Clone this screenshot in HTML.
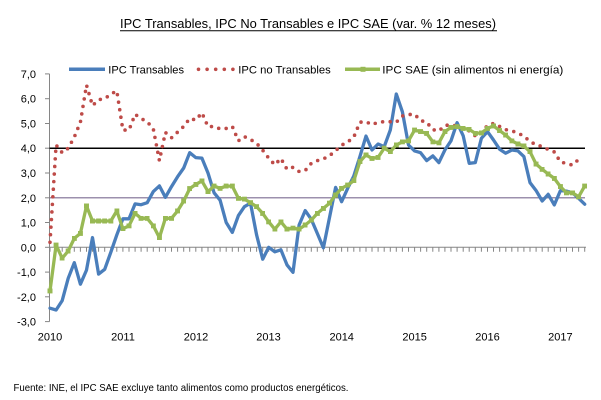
<!DOCTYPE html>
<html>
<head>
<meta charset="utf-8">
<style>
html,body{margin:0;padding:0;background:#fff;}
svg{display:block;}
text{font-family:"Liberation Sans",sans-serif;fill:#000;}
</style>
</head>
<body>
<svg width="601" height="400" viewBox="0 0 601 400" xmlns="http://www.w3.org/2000/svg">
<defs>
<marker id="sq" markerWidth="5" markerHeight="5" refX="2.5" refY="2.5" markerUnits="userSpaceOnUse">
<rect x="0" y="0" width="5" height="5" fill="#98B954"/>
</marker>
</defs>
<rect width="601" height="400" fill="#fff"/>

<!-- Title -->
<text x="120" y="28" font-size="13" textLength="376" lengthAdjust="spacingAndGlyphs">IPC Transables, IPC No Transables  e IPC SAE (var. % 12 meses)</text>
<line x1="120" y1="30.8" x2="497" y2="30.8" stroke="#000" stroke-width="1"/>

<!-- Legend -->
<line x1="69" y1="69.3" x2="105" y2="69.3" stroke="#4A7EBB" stroke-width="3.5"/>
<text x="108.3" y="73.3" font-size="11.4" textLength="75.7" lengthAdjust="spacingAndGlyphs">IPC Transables</text>
<g fill="#BE4B48">
<circle cx="198.5" cy="69.3" r="1.8"/><circle cx="207.1" cy="69.3" r="1.8"/><circle cx="215.7" cy="69.3" r="1.8"/><circle cx="224.3" cy="69.3" r="1.8"/><circle cx="232.9" cy="69.3" r="1.8"/>
</g>
<text x="238.3" y="73.3" font-size="11.4" textLength="92.4" lengthAdjust="spacingAndGlyphs">IPC no Transables</text>
<line x1="345" y1="69.3" x2="380" y2="69.3" stroke="#98B954" stroke-width="3.5"/>
<rect x="360.5" y="66.8" width="5" height="5" fill="#98B954"/>
<text x="382.3" y="73.3" font-size="11.4" textLength="181" lengthAdjust="spacingAndGlyphs">IPC SAE (sin alimentos  ni energía)</text>

<!-- Y axis -->
<g stroke="#868686" stroke-width="1">
<line x1="49.5" y1="73.9" x2="49.5" y2="321.6"/>
<line x1="45" y1="73.9" x2="49.5" y2="73.9"/>
<line x1="45" y1="98.7" x2="49.5" y2="98.7"/>
<line x1="45" y1="123.5" x2="49.5" y2="123.5"/>
<line x1="45" y1="148.2" x2="49.5" y2="148.2"/>
<line x1="45" y1="173" x2="49.5" y2="173"/>
<line x1="45" y1="197.8" x2="49.5" y2="197.8"/>
<line x1="45" y1="222.5" x2="49.5" y2="222.5"/>
<line x1="45" y1="247.3" x2="49.5" y2="247.3"/>
<line x1="45" y1="272.1" x2="49.5" y2="272.1"/>
<line x1="45" y1="296.8" x2="49.5" y2="296.8"/>
<line x1="45" y1="321.6" x2="49.5" y2="321.6"/>
</g>
<g font-size="11" text-anchor="end">
<text x="36" y="77.9">7,0</text>
<text x="36" y="102.7">6,0</text>
<text x="36" y="127.5">5,0</text>
<text x="36" y="152.2">4,0</text>
<text x="36" y="177">3,0</text>
<text x="36" y="201.8">2,0</text>
<text x="36" y="226.5">1,0</text>
<text x="36" y="251.3">0,0</text>
<text x="36" y="276.1">-1,0</text>
<text x="36" y="300.8">-2,0</text>
<text x="36" y="325.6">-3,0</text>
</g>

<!-- Reference lines -->
<line x1="49.5" y1="148.2" x2="585" y2="148.2" stroke="#000" stroke-width="1.5"/>
<line x1="49.5" y1="197.8" x2="585" y2="197.8" stroke="#7B6C92" stroke-width="1.2"/>

<!-- X axis (zero line) with monthly ticks -->
<line x1="49.5" y1="247.3" x2="586" y2="247.3" stroke="#868686" stroke-width="1"/>
<path stroke="#868686" stroke-width="1" fill="none" d="M50,247.3v4.5M56.1,247.3v4.5M62.2,247.3v4.5M68.2,247.3v4.5M74.3,247.3v4.5M80.4,247.3v4.5M86.5,247.3v4.5M92.5,247.3v4.5M98.6,247.3v4.5M104.7,247.3v4.5M110.8,247.3v4.5M116.8,247.3v4.5M122.9,247.3v4.5M129,247.3v4.5M135.1,247.3v4.5M141.1,247.3v4.5M147.2,247.3v4.5M153.3,247.3v4.5M159.4,247.3v4.5M165.4,247.3v4.5M171.5,247.3v4.5M177.6,247.3v4.5M183.7,247.3v4.5M189.7,247.3v4.5M195.8,247.3v4.5M201.9,247.3v4.5M208,247.3v4.5M214.1,247.3v4.5M220.1,247.3v4.5M226.2,247.3v4.5M232.3,247.3v4.5M238.4,247.3v4.5M244.4,247.3v4.5M250.5,247.3v4.5M256.6,247.3v4.5M262.7,247.3v4.5M268.7,247.3v4.5M274.8,247.3v4.5M280.9,247.3v4.5M287,247.3v4.5M293,247.3v4.5M299.1,247.3v4.5M305.2,247.3v4.5M311.3,247.3v4.5M317.3,247.3v4.5M323.4,247.3v4.5M329.5,247.3v4.5M335.6,247.3v4.5M341.6,247.3v4.5M347.7,247.3v4.5M353.8,247.3v4.5M359.9,247.3v4.5M366,247.3v4.5M372,247.3v4.5M378.1,247.3v4.5M384.2,247.3v4.5M390.3,247.3v4.5M396.3,247.3v4.5M402.4,247.3v4.5M408.5,247.3v4.5M414.6,247.3v4.5M420.6,247.3v4.5M426.7,247.3v4.5M432.8,247.3v4.5M438.9,247.3v4.5M444.9,247.3v4.5M451,247.3v4.5M457.1,247.3v4.5M463.2,247.3v4.5M469.2,247.3v4.5M475.3,247.3v4.5M481.4,247.3v4.5M487.5,247.3v4.5M493.5,247.3v4.5M499.6,247.3v4.5M505.7,247.3v4.5M511.8,247.3v4.5M517.9,247.3v4.5M523.9,247.3v4.5M530,247.3v4.5M536.1,247.3v4.5M542.2,247.3v4.5M548.2,247.3v4.5M554.3,247.3v4.5M560.4,247.3v4.5M566.5,247.3v4.5M572.5,247.3v4.5M578.6,247.3v4.5M584.7,247.3v4.5"/>

<!-- Year labels -->
<g font-size="11" text-anchor="middle">
<text x="50" y="340.7">2010</text>
<text x="123" y="340.7">2011</text>
<text x="196" y="340.7">2012</text>
<text x="268.5" y="340.7">2013</text>
<text x="341.7" y="340.7">2014</text>
<text x="414.6" y="340.7">2015</text>
<text x="487.5" y="340.7">2016</text>
<text x="560.4" y="340.7">2017</text>
</g>

<!-- IPC Transables (blue) -->
<polyline fill="none" stroke="#4A7EBB" stroke-width="3.3" stroke-linejoin="round" stroke-linecap="round" points="50,308.2 56.1,310 62.2,300.6 68.2,278.3 74.3,262.7 80.4,284.2 86.5,270.1 92.5,237.6 98.6,274.1 104.7,269.3 110.8,252.3 116.8,234.9 122.9,218.8 129,218.8 135.1,203.9 141.1,204.7 147.2,202.7 153.3,191.6 159.4,185.9 165.4,197.3 171.5,186.6 177.6,176.7 183.7,168 189.7,152.7 195.8,157.6 201.9,158.1 208,173 214.1,192.8 220.1,200.2 226.2,222.5 232.3,232.4 238.4,215.6 244.4,206.7 250.5,203.2 256.6,234.9 262.7,259.2 268.7,247.3 274.8,251.8 280.9,249.8 287,264.9 293,272.3 299.1,225 305.2,210.6 311.3,219.3 317.3,233.4 323.4,247.8 329.5,217.6 335.6,187.4 341.6,201.7 347.7,188.3 353.8,176 359.9,156.6 366,136.1 372,150 378.1,144 384.2,146.7 390.3,130.1 396.3,94 402.4,111.8 408.5,145 414.6,150.9 420.6,152.7 426.7,160.6 432.8,155.9 438.9,162.6 444.9,150 451,140.8 457.1,122.7 463.2,135.8 469.2,163.3 475.3,162.6 481.4,138.3 487.5,131.6 493.5,140 499.6,149.2 505.7,153.2 511.8,150 517.9,150.9 523.9,156.6 530,182.6 536.1,190.6 542.2,201 548.2,194.3 554.3,204.9 560.4,190.6 566.5,191.1 572.5,192.8 578.6,198.3 584.7,204.2"/>

<!-- IPC no Transables (red dotted) -->
<polyline fill="none" stroke="#BE4B48" stroke-width="3.6" stroke-linejoin="round" stroke-linecap="round" stroke-dasharray="0 7.6" points="50,242.3 56.1,145 62.2,152.7 68.2,148.2 74.3,137.1 80.4,122.2 86.5,85.1 92.5,105.6 98.6,99.7 104.7,98.7 110.8,94.2 116.8,90.8 122.9,130.1 129,130.1 135.1,114.3 141.1,118.5 147.2,121.7 153.3,128.9 159.4,160.6 165.4,132.4 171.5,137.8 177.6,132.1 183.7,126.4 189.7,118.5 195.8,120 201.9,112.8 208,126.7 214.1,126.4 220.1,128.9 226.2,128.4 232.3,126.4 238.4,140.8 244.4,136.6 250.5,139.5 256.6,143.3 262.7,150.2 268.7,158.1 274.8,164.8 280.9,158.4 287,169.3 293,167.3 299.1,171.5 305.2,170.5 311.3,163.3 317.3,160.6 323.4,158.9 329.5,155.7 335.6,150.7 341.6,145.2 347.7,142 353.8,137.1 359.9,122.2 366,121.7 372,124.7 378.1,122.2 384.2,121.7 390.3,121.7 396.3,122.2 402.4,116 408.5,114.5 414.6,114.3 420.6,120.5 426.7,122.2 432.8,129.6 438.9,130.9 444.9,125.4 451,124.9 457.1,125.9 463.2,128.4 469.2,130.9 475.3,135.8 481.4,133.4 487.5,125.2 493.5,123.4 499.6,126.4 505.7,129.6 511.8,130.9 517.9,132.9 523.9,136.3 530,141.3 536.1,145 542.2,146.5 548.2,149.5 554.3,151.9 560.4,161.8 566.5,163.6 572.5,165.1 578.6,159.4"/>

<!-- IPC SAE (green with square markers) -->
<polyline fill="none" stroke="#98B954" stroke-width="3.3" stroke-linejoin="round" stroke-linecap="round" marker-start="url(#sq)" marker-mid="url(#sq)" marker-end="url(#sq)" points="50,290.9 56.1,245.1 62.2,258.2 68.2,251 74.3,238.4 80.4,233.4 86.5,206 92.5,221 98.6,221 104.7,221 110.8,221 116.8,210.9 122.9,228.7 129,225.8 135.1,213.4 141.1,218.3 147.2,218.3 153.3,225.8 159.4,237.6 165.4,218.3 171.5,218.3 177.6,210.9 183.7,201 189.7,188.6 195.8,184.4 201.9,180.9 208,191.6 214.1,186.1 220.1,188.3 226.2,186.1 232.3,186.1 238.4,198.3 244.4,199.2 250.5,202.7 256.6,206.7 262.7,213.4 268.7,221.8 274.8,229.2 280.9,221.8 287,229.2 293,228.2 299.1,229.2 305.2,225 311.3,220.1 317.3,213.4 323.4,208.4 329.5,203.2 335.6,195 341.6,188.3 347.7,185.1 353.8,180.7 359.9,161.6 366,154.9 372,158.4 378.1,157.4 384.2,148.2 390.3,151.7 396.3,145 402.4,141.8 408.5,140.8 414.6,130.1 420.6,131.6 426.7,133.4 432.8,141.8 438.9,142.8 444.9,131.6 451,127.4 457.1,126.7 463.2,128.4 469.2,129.4 475.3,133.4 481.4,132.9 487.5,128.4 493.5,125.9 499.6,130.6 505.7,135.1 511.8,140.8 517.9,144 523.9,146 530,151.7 536.1,164.1 542.2,169.3 548.2,174 554.3,178.4 560.4,186.6 566.5,192.8 572.5,192.8 578.6,196.8 584.7,186.1"/>

<!-- Footnote -->
<text x="13.5" y="391" font-size="10.5" textLength="335" lengthAdjust="spacingAndGlyphs">Fuente: INE, el IPC SAE excluye tanto alimentos como productos energéticos.</text>
</svg>
</body>
</html>
